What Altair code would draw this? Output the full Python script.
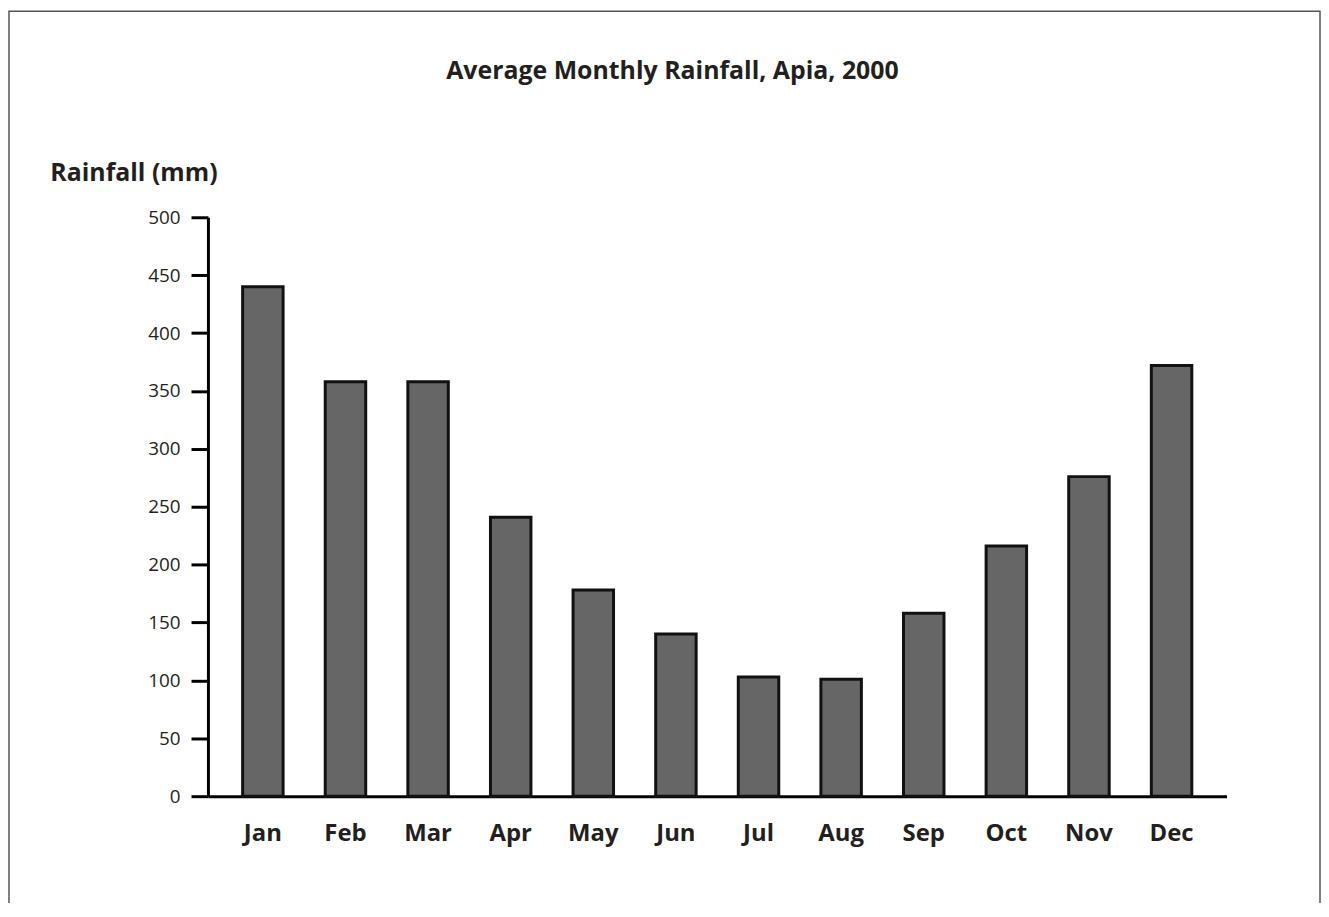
import altair as alt
import pandas as pd

# ---- data ----
months = ["Jan", "Feb", "Mar", "Apr", "May", "Jun",
          "Jul", "Aug", "Sep", "Oct", "Nov", "Dec"]
rainfall = [440, 358, 358, 241, 178, 140, 103, 101, 158, 216, 276, 372]
y_ticks = [0, 50, 100, 150, 200, 250, 300, 350, 400, 450, 500]

title_text = "Average Monthly Rainfall, Apia, 2000"
y_title = "Rainfall (mm)"

df = pd.DataFrame({"Month": months, "Rainfall": rainfall})
frame_df = pd.DataFrame({"k": [0]})

FONT = "Open Sans"
TEXT = "#231f20"

frame = alt.Chart(frame_df).mark_rect(
    fillOpacity=0, stroke="#555555", strokeWidth=1.5, clip=False
).encode(
    x=alt.value(-200), x2=alt.value(1118),
    y=alt.value(-207), y2=alt.value(900),
)

bars = alt.Chart(df).mark_bar(
    fill="#666666", stroke="#111111", strokeWidth=3
).encode(
    x=alt.X(
        "Month:N", sort=months,
        scale=alt.Scale(paddingInner=0.51, paddingOuter=0.42),
        axis=alt.Axis(
            title=None, labelAngle=0, ticks=False, tickSize=0,
            labelPadding=26, labelBaseline="top",
            labelFont=FONT, labelFontSize=24, labelFontWeight="bold",
            labelColor=TEXT, domainColor="#000000", domainWidth=3,
        ),
    ),
    y=alt.Y(
        "Rainfall:Q",
        scale=alt.Scale(domain=[0, 500], nice=False),
        axis=alt.Axis(
            values=y_ticks, title=y_title, titleAngle=0, titleAlign="left",
            titleBaseline="alphabetic", titleX=-159, titleY=-37,
            titleFont=FONT, titleFontSize=25, titleFontWeight="bold",
            titleColor=TEXT,
            labelFont=FONT, labelFontSize=19, labelColor=TEXT,
            labelPadding=11, tickSize=17, tickWidth=3, tickColor="#000000",
            domainWidth=3, domainColor="#000000", grid=False,
        ),
    ),
)

chart = alt.layer(frame, bars).properties(
    width=1024,
    height=582,
    padding={"left": 201, "top": 208, "right": 95, "bottom": 105},
    autosize=alt.AutoSizeParams(type="none"),
    title=alt.Title(
        title_text, font=FONT, fontSize=25, fontWeight="bold", color=TEXT,
        anchor="middle", dx=-45, dy=74, offset=0,
    ),
).configure(
    background="white",
    view=alt.ViewConfig(strokeWidth=0, strokeOpacity=0),
)

chart.save("out.html", embed_options={"renderer": "svg", "actions": False})
